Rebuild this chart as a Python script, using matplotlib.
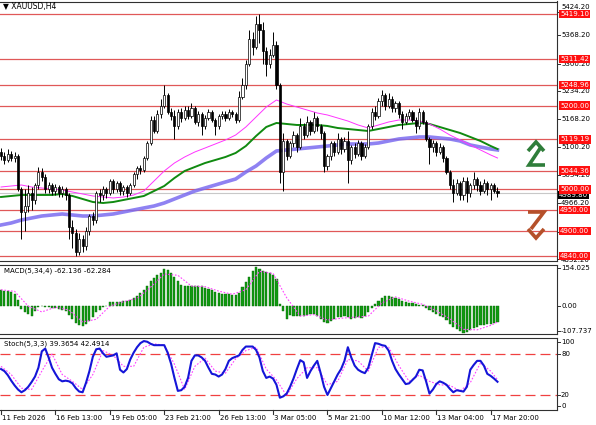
import matplotlib
matplotlib.use("Agg")
import matplotlib.pyplot as plt
from matplotlib.lines import Line2D

# --- Datos: velas H4 de XAUUSD ---
opens = [5090, 5080, 5070, 5085, 5075, 5080, 5000, 4945, 4960, 4990,
         4975, 5010, 5040, 5030, 5000, 5010, 4995, 5005, 4990, 5000,
         4985, 4910, 4895, 4850, 4880, 4865, 4900, 4935, 4925, 4990,
         4985, 5000, 4990, 5020, 5000, 5015, 4995, 5005, 4990, 5010,
         5035, 5050, 5045, 5075, 5110, 5165, 5140, 5180, 5200, 5225,
         5185, 5175, 5150, 5185, 5170, 5190, 5175, 5195, 5160, 5180,
         5150, 5170, 5185, 5165, 5150, 5175, 5180, 5170, 5185, 5180,
         5165, 5220, 5250, 5300, 5360, 5340, 5395, 5380, 5330, 5300,
         5320, 5345, 5250, 5040, 5115, 5080, 5110, 5130, 5100, 5150,
         5130, 5160, 5140, 5170, 5150, 5135, 5055, 5080, 5110, 5090,
         5120, 5095, 5115, 5070, 5100, 5085, 5110, 5080, 5100, 5150,
         5185, 5175, 5210, 5225, 5200, 5215, 5195, 5205, 5180, 5160,
         5175, 5185, 5165, 5150, 5185, 5160, 5120, 5100, 5110, 5090,
         5100, 5075, 5040, 5010, 4990, 5015, 4985, 5020, 4990, 5010,
         5025, 5010, 4995, 5015, 5000, 5010, 4995]
highs = [5098, 5090, 5095, 5092, 5090, 5085, 5005, 5000, 5010, 5005,
         5015, 5052, 5050, 5035, 5018, 5015, 5012, 5010, 5008, 5005,
         4990, 4925, 4905, 4895, 4890, 4910, 4940, 4945, 4995, 5000,
         5008, 5005, 5025, 5025, 5020, 5020, 5010, 5010, 5015, 5040,
         5055, 5058, 5080, 5115, 5175, 5175, 5190, 5215, 5248, 5230,
         5195, 5190, 5192, 5195, 5198, 5200, 5205, 5200, 5188, 5185,
         5178, 5192, 5190, 5170, 5180, 5188, 5186, 5192, 5190, 5185,
         5235, 5265, 5310, 5380, 5375, 5415, 5419, 5400, 5340, 5335,
         5375, 5355, 5255, 5135, 5120, 5115, 5140, 5135, 5170, 5158,
         5175, 5165, 5185, 5175, 5155, 5140, 5085, 5115, 5115, 5135,
         5125, 5125, 5140, 5105, 5110, 5118, 5115, 5108, 5155, 5195,
         5200, 5218, 5237, 5230, 5230, 5222, 5212, 5210, 5188, 5182,
         5192, 5190, 5172, 5195, 5190, 5165, 5125, 5118, 5115, 5110,
         5105, 5080, 5045, 5025, 5025, 5020, 5030, 5030, 5015, 5040,
         5030, 5020, 5025, 5020, 5015, 5015, 5005]
lows = [5070, 5060, 5065, 5068, 5065, 4995, 4880, 4900, 4945, 4950,
        4965, 5000, 5020, 4990, 4990, 4985, 4985, 4980, 4980, 4975,
        4880, 4860, 4840, 4842, 4850, 4855, 4890, 4915, 4920, 4970,
        4975, 4978, 4985, 4990, 4992, 4985, 4985, 4982, 4985, 5005,
        5025, 5035, 5040, 5070, 5105, 5135, 5135, 5170, 5195, 5180,
        5165, 5120, 5145, 5160, 5165, 5168, 5170, 5155, 5150, 5130,
        5145, 5165, 5160, 5130, 5145, 5168, 5162, 5165, 5172, 5158,
        5160, 5215, 5240, 5295, 5320, 5335, 5350, 5300, 5270, 5290,
        5315, 5240, 5015, 4995, 5070, 5075, 5100, 5090, 5095, 5120,
        5125, 5130, 5135, 5140, 5120, 5040, 5045, 5070, 5080, 5085,
        5085, 5090, 5015, 5060, 5075, 5080, 5070, 5075, 5095, 5145,
        5165, 5170, 5200, 5190, 5195, 5185, 5185, 5170, 5145, 5155,
        5168, 5160, 5135, 5145, 5155, 5115, 5060, 5090, 5080, 5085,
        5065, 5035, 5000, 4968, 4985, 4975, 4975, 4970, 4980, 5000,
        4995, 4985, 4990, 4985, 4975, 4990, 4980]
closes = [5080, 5070, 5085, 5075, 5080, 5000, 4945, 4960, 4990, 4975,
          5010, 5040, 5030, 5000, 5010, 4995, 5005, 4990, 5000, 4985,
          4910, 4895, 4850, 4880, 4865, 4900, 4935, 4925, 4990, 4985,
          5000, 4990, 5020, 5000, 5015, 4995, 5005, 4990, 5010, 5035,
          5050, 5045, 5075, 5110, 5165, 5140, 5180, 5200, 5225, 5185,
          5175, 5150, 5185, 5170, 5190, 5175, 5195, 5160, 5180, 5150,
          5170, 5185, 5165, 5150, 5175, 5180, 5170, 5185, 5180, 5165,
          5220, 5250, 5300, 5360, 5340, 5395, 5380, 5330, 5300, 5320,
          5345, 5250, 5040, 5115, 5080, 5110, 5130, 5100, 5150, 5130,
          5160, 5140, 5170, 5150, 5135, 5055, 5080, 5110, 5090, 5120,
          5095, 5115, 5070, 5100, 5085, 5110, 5080, 5100, 5150, 5185,
          5175, 5210, 5225, 5200, 5215, 5195, 5205, 5180, 5160, 5175,
          5185, 5165, 5150, 5185, 5160, 5120, 5100, 5110, 5090, 5100,
          5075, 5040, 5010, 4990, 5015, 4985, 5020, 4990, 5010, 5025,
          5010, 4995, 5015, 5000, 5010, 4995, 4989.8]

# Medias móviles (muestreadas cada 3 velas)
ma_idx = [0, 3, 6, 9, 12, 15, 18, 21, 24, 27, 30, 33, 36, 39, 42, 45, 48,
          51, 54, 57, 60, 63, 66, 69, 72, 75, 78, 81, 84, 87, 90, 93, 96,
          99, 102, 105, 108, 111, 114, 117, 120, 123, 126, 129, 132, 135,
          138, 141, 144, 146]
ma_rapida = [5005.1, 5007.5, 5009.9, 5005.1, 5002.7, 5000.3, 4997.9, 4993.1,
             4988.4, 4983.6, 4981.2, 4978.8, 4981.2, 4986.0, 4995.5, 5019.5,
             5043.4, 5062.5, 5076.9, 5088.9, 5098.4, 5108.0, 5117.6, 5129.5,
             5148.7, 5172.6, 5196.5, 5213.3, 5203.7, 5196.5, 5189.4, 5182.2,
             5177.4, 5170.2, 5163.0, 5153.5, 5146.3, 5153.5, 5160.7, 5165.4,
             5165.4, 5163.0, 5155.9, 5143.9, 5129.5, 5117.6, 5105.6, 5093.7,
             5081.7, 5074.5]
ma_media = [4981.2, 4983.6, 4986.0, 4986.0, 4986.0, 4986.0, 4988.4, 4983.6,
            4976.4, 4969.2, 4966.8, 4969.2, 4974.0, 4978.8, 4983.6, 4995.5,
            5007.5, 5026.6, 5043.4, 5053.0, 5062.5, 5069.7, 5076.9, 5086.5,
            5103.2, 5127.1, 5148.7, 5158.3, 5155.9, 5153.5, 5153.5, 5153.5,
            5151.1, 5146.3, 5143.9, 5141.5, 5139.1, 5143.9, 5148.7, 5153.5,
            5155.9, 5158.3, 5155.9, 5148.7, 5141.5, 5134.3, 5124.8, 5115.2,
            5103.2, 5096.0]
ma_lenta = [4914.2, 4919.0, 4926.1, 4930.9, 4935.7, 4938.1, 4940.5, 4938.1,
            4935.7, 4935.7, 4938.1, 4940.5, 4945.3, 4950.1, 4954.9, 4959.6,
            4966.8, 4976.4, 4986.0, 4995.5, 5002.7, 5009.9, 5017.1, 5024.2,
            5041.0, 5055.4, 5074.5, 5091.3, 5093.7, 5096.0, 5098.4, 5100.8,
            5103.2, 5105.6, 5108.0, 5108.0, 5108.0, 5110.4, 5115.2, 5120.0,
            5122.4, 5124.8, 5124.8, 5122.4, 5120.0, 5115.2, 5105.6, 5100.8,
            5096.0, 5093.7]

# Niveles de soporte / resistencia
niveles = [5419.10, 5311.42, 5248.96, 5200.00, 5119.19, 5044.36,
           5000.00, 4950.00, 4900.00, 4840.00]
ticks_precio = [5368.20, 5300.20, 5234.20, 5168.20, 5100.20,
                5034.20, 4966.20, 4898.20]

# MACD(5,34,4): histograma por vela y señal muestreada
macd = [58, 57, 55, 52, 45, 20, -12, -25, -30, -40,
        -20, -5, -3, -5, -6, -8, -10, -14, -18, -20,
        -35, -52, -65, -74, -76, -70, -58, -42, -25, -15,
        -6, 0, 14, 15, 14, 15, 16, 18, 20, 28,
        38, 48, 58, 75, 92, 105, 115, 125, 140, 135,
        122, 108, 95, 80, 74, 73, 74, 74, 75, 73,
        68, 62, 58, 52, 48, 45, 44, 43, 42, 41,
        48, 70, 88, 110, 130, 145, 138, 130, 126, 122,
        115, 100, 5, -20, -50, -35, -38, -40, -40, -38,
        -35, -32, -33, -40, -50, -62, -67, -58, -50, -45,
        -42, -40, -45, -49, -48, -45, -48, -40, -25, -10,
        5, 18, 28, 35, 36, 34, 30, 25, 18, 14,
        10, 8, 5, 4, 2, -8, -18, -25, -32, -38,
        -45, -55, -68, -80, -90, -98, -103, -100, -92, -85,
        -80, -75, -72, -70, -68, -65, -62.136]
senal_idx = [0, 4, 8, 12, 16, 20, 24, 28, 32, 36, 40, 44, 48, 52, 56, 60,
             64, 68, 72, 76, 80, 84, 88, 92, 96, 100, 104, 108, 112, 116,
             120, 124, 128, 132, 136, 140, 144, 146]
macd_senal = [60, 54, -2, -24, -6, -17, -62, -52, -2, 15, 27, 70, 120, 115,
              74, 72, 55, 43, 60, 130, 122, 30, -40, -34, -55, -48, -44,
              -40, 10, 33, 17, 5, -20, -50, -90, -92, -75, -62.284]

# Estocástico(5,3,3)
stoch = [58, 55, 49, 41, 34, 28, 24, 27, 32, 39,
         47, 60, 84, 88, 75, 60, 51, 43, 40, 41,
         40, 37, 30, 25, 24, 38, 55, 76, 87, 88,
         81, 76, 77, 78, 81, 57, 53, 58, 72, 82,
         90, 96, 99, 98, 95, 93, 93, 93, 93, 82,
         66, 45, 26, 27, 32, 45, 70, 78, 78, 75,
         70, 60, 51, 50, 47, 50, 58, 70, 74, 76,
         78, 86, 91, 91, 91, 86, 75, 55, 45, 47,
         44, 35, 16, 18, 22, 32, 44, 58, 71, 68,
         45, 55, 63, 70, 52, 32, 20, 30, 40, 50,
         58, 70, 90, 75, 63, 57, 54, 52, 60, 78,
         96, 95, 93, 92, 85, 70, 58, 50, 43, 36,
         37, 42, 47, 57, 56, 40, 22, 28, 36, 40,
         38, 35, 29, 24, 27, 26, 25, 32, 57, 64,
         70, 70, 63, 51, 48, 44, 39.3654]
stoch_idx = [0, 3, 6, 9, 12, 15, 18, 21, 24, 27, 30, 33, 36, 39, 42, 45,
             48, 51, 54, 57, 60, 63, 66, 69, 72, 75, 78, 81, 84, 87, 90,
             93, 96, 99, 102, 105, 108, 111, 114, 117, 120, 123, 126, 129,
             132, 135, 138, 141, 144, 146]
stoch_senal = [62, 50, 30, 28, 55, 80, 50, 40, 28, 50, 85, 78, 62, 62, 90,
               95, 93, 65, 28, 62, 74, 55, 52, 73, 85, 90, 58, 42, 19, 44,
               60, 60, 35, 40, 72, 70, 55, 90, 90, 63, 40, 49, 40, 35, 34,
               26, 38, 67, 55, 42.4914]

etiquetas_fecha = ["11 Feb 2026", "16 Feb 13:00", "19 Feb 05:00",
                   "23 Feb 21:00", "26 Feb 13:00", "3 Mar 05:00",
                   "5 Mar 21:00", "10 Mar 12:00", "13 Mar 04:00",
                   "17 Mar 20:00"]

# ============================================================
# FIGURA (coordenadas en píxeles de la imagen 596x425)
# ============================================================
W, H = 596, 425
fig = plt.figure(figsize=(W / 100, H / 100), dpi=100)
fig.patch.set_facecolor("white")


def caja(y0, y1, x0=0, x1=557):
    return [x0 / W, 1 - y1 / H, (x1 - x0) / W, (y1 - y0) / H]


def fx(x):
    return x / W


def fy(y):
    return 1 - y / H


ax_p = fig.add_axes(caja(1.5, 261))
ax_m = fig.add_axes(caja(265, 334))
ax_s = fig.add_axes(caja(338, 410))

n = len(closes)
idx = list(range(n))
XMIN, XMAX = -0.3, 163.5

for ax in (ax_p, ax_m, ax_s):
    ax.set_xlim(XMIN, XMAX)
    ax.set_xticks([])
    ax.set_yticks([])
    for s in ax.spines.values():
        s.set_color("#303030")
        s.set_linewidth(0.8)
    ax.spines["left"].set_visible(False)

# --- Panel de precio ---
ax_p.set_ylim(4828, 5449)
for nv in niveles:
    ax_p.axhline(nv, color="#e05858", lw=0.9, zorder=1)
ax_p.axhline(closes[-1], color="#c8c8c8", lw=0.8, zorder=1)

ax_p.plot(ma_idx, ma_lenta, color="#7b6cf0", lw=2.6, alpha=0.85, zorder=2)
ax_p.plot(ma_idx, ma_media, color="#108a10", lw=1.4, zorder=3)
ax_p.plot(ma_idx, ma_rapida, color="#ff33ff", lw=0.7, zorder=3)

for i in idx:
    o, h, l, c = opens[i], highs[i], lows[i], closes[i]
    ax_p.vlines(i, l, h, color="black", lw=0.7, zorder=4)
    alto = max(abs(c - o), 1.5)
    cara = "white" if c >= o else "black"
    ax_p.bar(i, alto, bottom=min(o, c), width=0.62, color=cara,
             edgecolor="black", linewidth=0.5, zorder=5)

# --- Panel MACD ---
ax_m.set_ylim(-107.737, 154.025)
ax_m.bar(idx, macd, width=0.62, color="#119a11", edgecolor="#0a6a0a",
         linewidth=0.3, zorder=2)
ax_m.plot(senal_idx, macd_senal, color="#ff40ff", lw=0.8,
          linestyle=(0, (1.5, 1.5)), zorder=3)

# --- Panel estocástico ---
ax_s.set_ylim(-2, 103.5)
for nv in (80, 20):
    ax_s.axhline(nv, color="#f04040", lw=0.9, linestyle=(0, (8, 4)), zorder=1)
ax_s.plot(stoch_idx, stoch_senal, color="#ff40ff", lw=0.8,
          linestyle=(0, (1.5, 1.5)), zorder=2)
ax_s.plot(idx, stoch, color="#1515d8", lw=1.5, zorder=3)

# --- Eje de fechas ---
for k, etq in enumerate(etiquetas_fecha):
    i = k * 16
    xp = (i - XMIN) / (XMAX - XMIN) * 557
    fig.add_artist(Line2D([fx(xp), fx(xp)], [fy(410), fy(414)],
                          color="#303030", lw=0.8))
    fig.text(fx(xp + 1), fy(418), etq, fontsize=5, va="center", ha="left")


# --- Etiquetas de eje derecho ---
def yfig(ax, valor):
    y0, y1 = ax.get_ylim()
    pos = ax.get_position()
    return pos.y0 + (valor - y0) / (y1 - y0) * pos.height


def etiqueta_derecha(ax, valor, texto, dy=0):
    yf = yfig(ax, valor)
    fig.add_artist(Line2D([fx(557), fx(560)], [yf, yf], color="#303030", lw=0.7))
    fig.text(fx(561), yf - dy / H, texto, fontsize=5, va="center", ha="left")


for t in ticks_precio:
    etiqueta_derecha(ax_p, t, f"{t:.2f}")
# los extremos del eje se desplazan hacia dentro, como en MT4
etiqueta_derecha(ax_p, 5424.20, "5424.20", dy=-5)
etiqueta_derecha(ax_p, 4832.20, "4832.20", dy=1)

fig.text(fx(559), yfig(ax_p, closes[-1]) - 0.004, f"{closes[-1]:.2f}",
         fontsize=5, color="white", va="center", ha="left",
         bbox=dict(boxstyle="square,pad=0.15", fc="black", ec="none"))
for nv in niveles:
    fig.text(fx(560), yfig(ax_p, nv), f"{nv:.2f}", fontsize=5,
             color="white", va="center", ha="left",
             bbox=dict(boxstyle="square,pad=0.2", fc="#ff1010", ec="none"))

etiqueta_derecha(ax_m, 154.025 - 10, "154.025")
etiqueta_derecha(ax_m, 0, "0.00")
etiqueta_derecha(ax_m, -107.737 + 12, "-107.737")
for v, t in [(97, "100"), (80, "80"), (20, "20"), (4, "0")]:
    etiqueta_derecha(ax_s, v, t)

# --- Textos de cabecera ---
fig.text(fx(3), fy(6.5), "\u25bc XAUUSD,H4", fontsize=5.5, va="center")
fig.text(fx(4), fy(270.5), "MACD(5,34,4) -62.136 -62.284", fontsize=5,
         va="center")
fig.text(fx(4), fy(343.5), "Stoch(5,3,3) 39.3654 42.4914", fontsize=5,
         va="center")


# --- Flechas de dirección ---
def trazo(puntos, color):
    xs = [fx(p[0]) for p in puntos]
    ys = [fy(p[1]) for p in puntos]
    fig.add_artist(Line2D(xs, ys, color=color, lw=2.6,
                          solid_capstyle="butt", solid_joinstyle="miter"))


verde = "#2f7d3a"
trazo([(528, 151), (536, 142), (544, 151)], verde)
trazo([(541, 147), (529, 165), (545, 165)], verde)
marron = "#b5502a"
trazo([(528, 212), (544, 212), (531, 229)], marron)
trazo([(528, 229), (536, 238), (544, 229)], marron)

plt.savefig("out.png", dpi=100)
